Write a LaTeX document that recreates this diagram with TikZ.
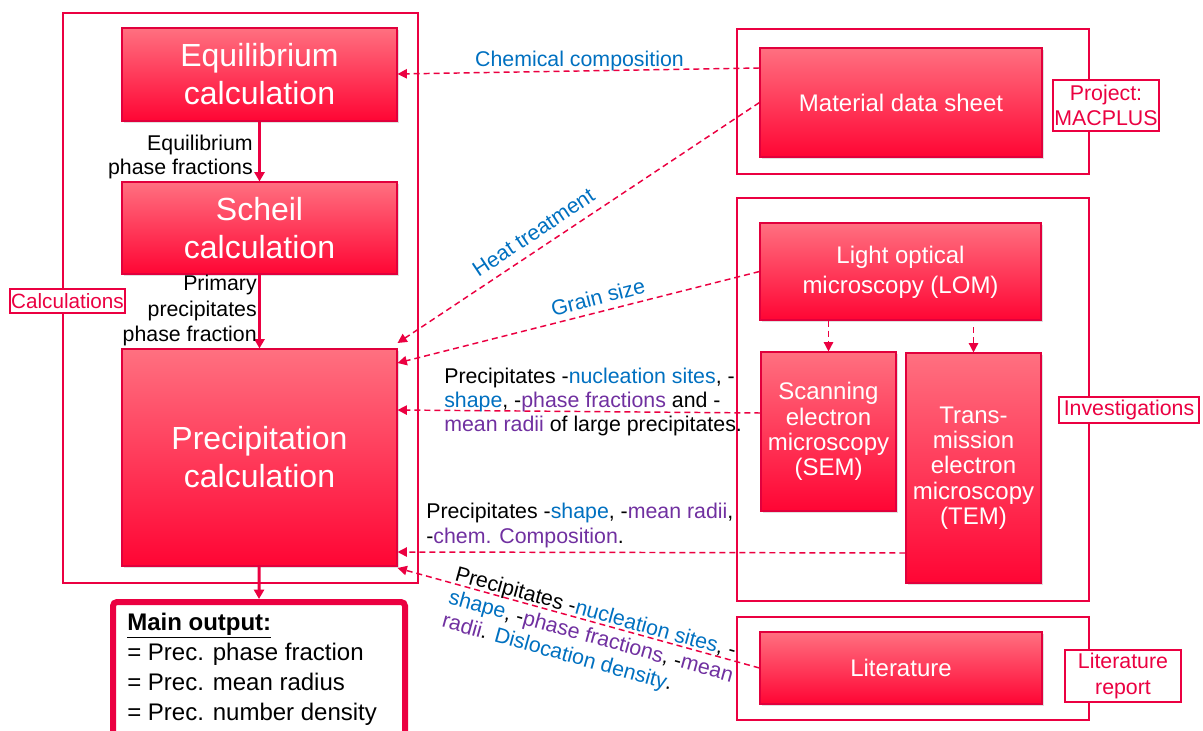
\documentclass[tikz,border=0pt]{standalone}
\usepackage{fontspec}
\setmainfont{Liberation Sans}
\usetikzlibrary{arrows.meta,fit,shadows}

\definecolor{crim}{RGB}{235,0,65}
\definecolor{crimdark}{RGB}{225,0,60}
\definecolor{boxtop}{RGB}{255,112,128}
\definecolor{boxbot}{RGB}{255,5,52}
\definecolor{txtblue}{RGB}{0,112,192}
\definecolor{txtpurp}{RGB}{112,48,160}
\newcommand\cblue[1]{\textcolor{txtblue}{#1}}
\newcommand\cpurp[1]{\textcolor{txtpurp}{#1}}

\begin{document}
\begin{tikzpicture}[x=0.75pt,y=-0.75pt,
  sz/.style 2 args={minimum width=#1*0.75pt, minimum height=#2*0.75pt},
  frame/.style={draw=crim, line width=1.1pt, fill=white, inner sep=0pt,
    drop shadow={opacity=0.15, shadow xshift=1pt, shadow yshift=-1pt}},
  redbox/.style={draw=crimdark, line width=0.8pt, top color=boxtop, bottom color=boxbot,
    inner sep=0pt, text=white, align=center,
    drop shadow={opacity=0.25, shadow xshift=1.2pt, shadow yshift=-1.2pt}},
  bigtext/.style={font=\fontsize{24}{28.5}\selectfont},
  midtext/.style={font=\fontsize{18}{19}\selectfont},
  tag/.style={draw=crim, line width=1.1pt, fill=white, text=crim, inner sep=0pt,
    align=center, font=\fontsize{16}{18.5}\selectfont},
  flow/.style={draw=crim, line width=2.2pt, -{Triangle[length=7pt,width=7.5pt]}},
  feed/.style={draw=crim, line width=1.1pt, dash pattern=on 4.5pt off 3pt,
    -{Triangle[length=7pt,width=7pt]}},
  note/.style={inner sep=0pt, font=\fontsize{16}{18.5}\selectfont},
  ]
\useasboundingbox (0,0) rectangle (1203,731);
\clip (0,0) rectangle (1203,731);

% group frames
\node[frame, fit={(63,13) (418,583)}] (calcframe) {};
\node[frame, fit={(737,29) (1089,174)}] (projframe) {};
\node[frame, fit={(737,198) (1089,601)}] (invframe) {};
\node[frame, fit={(737,617) (1089,720)}] (litframe) {};

% calculation chain
\node[redbox, bigtext, sz={275}{93}] (eq) at (259.5,74.5) {Equilibrium\\calculation};
\node[redbox, bigtext, sz={275}{92}] (scheil) at (259.5,228) {Scheil\\calculation};
\node[redbox, bigtext, sz={275}{217}] (prec) at (259.5,457.5) {Precipitation\\calculation};

% main output
\node[draw=crim, line width=4.5pt, rounded corners=3pt, fill=white, inner sep=0pt,
  fit={(113,602) (405,780)}] (out) {};
\node[anchor=north west, align=left, inner sep=0pt, font=\fontsize{18}{22.5}\selectfont]
  (outtxt) at (127,613) {\underline{\textbf{Main output:}}\\= Prec. phase fraction\\= Prec. mean radius\\= Prec. number density};

% sources
\node[redbox, midtext, sz={282}{109}] (mat) at (901,102.5) {Material data sheet};
\node[redbox, font=\fontsize{18}{22.5}\selectfont, sz={281}{97}, text depth=3pt] (lom) at (900.5,271.5) {Light optical\\microscopy (LOM)};
\node[redbox, midtext, sz={135}{159}] (sem) at (828.5,431.5) {Scanning\\electron\\microscopy\\(SEM)};
\node[redbox, midtext, sz={135}{230}] (tem) at (973.5,468) {Trans-\\mission\\electron\\microscopy\\(TEM)};
\node[redbox, midtext, sz={282}{72}] (lit) at (901,668) {Literature};

% solid flow
\draw[flow] (eq) -- (scheil);
\draw[flow] (scheil) -- (prec);
\draw[flow] (prec) -- (out.north);

% dashed inputs
\draw[feed] (mat.west |- 0,68) -- (eq.east |- 0,74);
\draw[feed] (mat.west) -- (prec.east |- 0,343);
\draw[feed] (lom.west) -- (prec.east |- 0,363);
\draw[feed] (sem.west |- 0,413) -- (prec.east |- 0,410);
\draw[feed] (tem.west |- 0,553) -- (prec.east |- 0,552);
\draw[feed] (lit.west) -- (prec.east |- 0,568);
\draw[feed] (lom.south -| sem.north) -- (sem.north);
\draw[feed] ([yshift=-5pt]lom.south -| tem.north) -- (tem.north);

% connector labels
\node[note, anchor=east, align=right] (eqlbl) at (253,157) {Equilibrium\\phase fractions};
\node[note, anchor=east, align=right, font=\fontsize{16}{19}\selectfont] (primlbl) at (257,310.5) {Primary\\precipitates\\phase fraction};
\node[note, text=txtblue] (chemlbl) at (579.5,61) {Chemical composition};
\node[note, text=txtblue, rotate=33.6] (heatlbl) at (533.5,232.5) {Heat treatment};
\node[note, text=txtblue, rotate=14.4] (grainlbl) at (598,297) {Grain size};
\node[note, anchor=west, align=left, font=\fontsize{16}{18}\selectfont] (semlbl) at (444,402)
  {Precipitates -\cblue{nucleation sites}, -\\\cblue{shape}, -\cpurp{phase fractions} and -\\\cpurp{mean radii} of large precipitates.};
\node[note, anchor=west, align=left, font=\fontsize{16}{18.75}\selectfont] (temlbl) at (426,525)
  {Precipitates -\cblue{shape}, -\cpurp{mean radii},\\-\cpurp{chem. Composition}.};
\node[note, anchor=north west, align=left, rotate=-15.5, font=\fontsize{16}{18.2}\selectfont] (litlbl) at (458,565)
  {Precipitates -\cblue{nucleation sites}, -\\\cblue{shape}, -\cpurp{phase fractions}, -\cpurp{mean}\\\cpurp{radii}. \cblue{Dislocation density}.};

% group tags
\node[tag, font=\fontsize{15.5}{18}\selectfont, sz={115}{24}] (calctag) at (67.5,301) {Calculations};
\node[tag, sz={106}{51}] (projtag) at (1106,105.5) {Project:\\MACPLUS};
\node[tag, sz={140}{26}] (invtag) at (1129,410) {Investigations};
\node[tag, font=\fontsize{16}{19}\selectfont, sz={116}{52}] (littag) at (1123,676) {Literature\\report};
\end{tikzpicture}
\end{document}
